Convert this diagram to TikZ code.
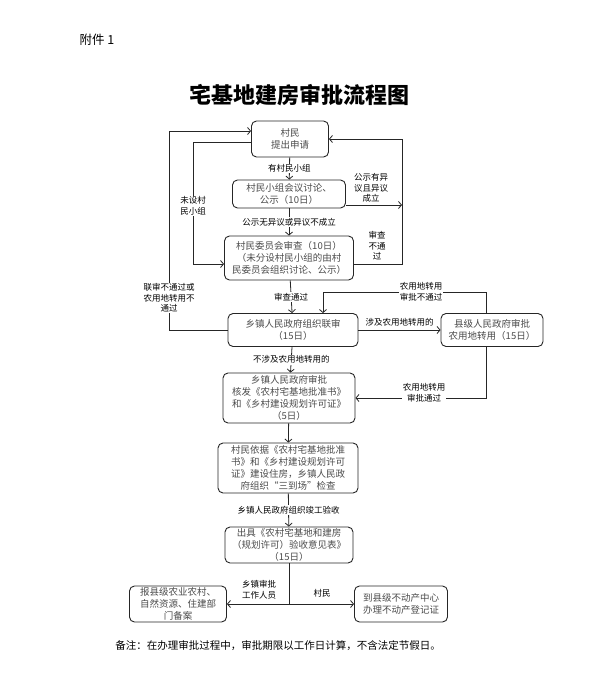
\documentclass[tikz,border=0pt]{standalone}
\usepackage{fontspec}
\setmainfont{Noto Sans CJK SC}
\usetikzlibrary{arrows.meta}

\begin{document}
\begin{tikzpicture}[x=1pt, y=-1pt,
  box/.style={draw=black!85, line width=0.9pt, rounded corners=5pt, align=center, text=black!70, font=\fontsize{9.5}{12}\selectfont, inner sep=1pt},
  lbl/.style={align=center, font=\fontsize{8.5}{10.5}\selectfont, inner sep=1pt},
  lblw/.style={lbl, fill=white},
  arrow/.style={-{Straight Barb[length=3pt,width=7pt]}, line width=0.8pt, draw=black!85},
  link/.style={line width=0.8pt, draw=black!85}
]
\useasboundingbox[fill=white] (0,0) rectangle (595,679);

% Heading
\node[font=\fontsize{12.5}{14}\selectfont] (attach) at (97,40) {附件 1};
\node[font=\bfseries\fontsize{22}{26}\selectfont] (title) at (299,95) {宅基地建房审批流程图};

% Main column
\node[box, minimum width=77pt, minimum height=36pt] (apply) at (290,139) {村民\\提出申请};
\node[box, minimum width=113pt, minimum height=28pt] (group) at (289,194) {村民小组会议讨论、\\公示（10日）};
\node[box, minimum width=129pt, minimum height=44pt] (committee) at (289,258) {村民委员会审查（10日）\\（未分设村民小组的由村\\民委员会组织讨论、公示）};
\node[box, minimum width=130pt, minimum height=33pt] (joint) at (293,330) {乡镇人民政府组织联审\\（15日）};
\node[box, minimum width=102pt, minimum height=33pt] (county) at (492,330) {县级人民政府审批\\农用地转用（15日）};
\node[box, minimum width=132pt, minimum height=50pt] (approve) at (289,398) {乡镇人民政府审批\\核发《农村宅基地批准书》\\和《乡村建设规划许可证》\\（5日）};
\node[box, minimum width=140pt, minimum height=50pt] (build) at (288,468) {村民依据《农村宅基地批准\\书》和《乡村建设规划许可\\证》建设住房，乡镇人民政\\府组织“三到场”检查};
\node[box, minimum width=128pt, minimum height=36pt] (accept) at (289,545) {出具《农村宅基地和建房\\（规划许可）验收意见表》\\（15日）};

% Final boxes
\node[box, minimum width=97pt, minimum height=36pt] (filing) at (178,604) {报县级农业农村、\\自然资源、住建部\\门备案};
\node[box, minimum width=93pt, minimum height=36pt] (register) at (401,604) {到县级不动产中心\\办理不动产登记证};

% Loop coordinates
\coordinate (rloop) at (402,141);
\coordinate (lloop) at (193,264);
\coordinate (oloop) at (169,131);
\coordinate (cloop) at (323,292);

% Main flow
\draw[arrow] (apply) -- (group) node[midway, lblw] {有村民小组};
\draw[arrow] (group) -- (committee) node[midway, lblw] {公示无异议或异议不成立};
\draw[arrow] (committee) -- (joint) node[midway, lblw] {审查通过};
\draw[arrow] (joint) -- (approve) node[midway, lblw] {不涉及农用地转用的};
\draw[arrow] (approve) -- (build);
\draw[arrow] (build) -- (accept) node[midway, lblw] {乡镇人民政府组织竣工验收};

% Right loop
\draw[arrow] ([yshift=-6pt]committee.east) -| (apply.east -| rloop) -- (apply.east);
\draw[arrow] ([yshift=-11pt]group.east) -- ([yshift=-11pt]group.east -| rloop);
\node[lbl] (objection) at (371,188) {公示有异\\议且异议\\成立};
\node[lbl] (refused) at (377,246) {审查\\不通\\过};

% Left loops
\draw[arrow] ([yshift=-3pt]apply.west) -| (lloop) -- ([yshift=-6pt]committee.west);
\node[lblw] (nogroup) at (193,206) {未设村\\民小组};
\draw[arrow] (joint.west) -| (oloop) -- (apply.west |- oloop);
\node[lblw] (jointfail) at (169,298) {联审不通过或\\农用地转用不\\通过};

% County approval
\draw[arrow] (joint) -- (county) node[midway, lbl, above=2pt] {涉及农用地转用的};
\draw[arrow] ([xshift=-6pt]county.north) |- (cloop) -- ([xshift=30pt]joint.north);
\node[lblw] (landfail) at (421,292) {农用地转用\\审批不通过};
\draw[arrow] ([xshift=-6pt]county.south) |- (approve.east);
\node[lblw] (landpass) at (424,393) {农用地转用\\审批通过};

% Split
\draw[link] (accept.south) -- (accept.south |- filing.east) coordinate (split);
\draw[arrow] (split) -- (filing);
\draw[arrow] (split) -- (register);
\node[lbl] (staff) at (259,590) {乡镇审批\\工作人员};
\node[lbl] (villager) at (322,593) {村民};

% Note
\node[font=\fontsize{10.5}{12}\selectfont] (note) at (278,646) {备注：在办理审批过程中，审批期限以工作日计算，不含法定节假日。};
\end{tikzpicture}
\end{document}
